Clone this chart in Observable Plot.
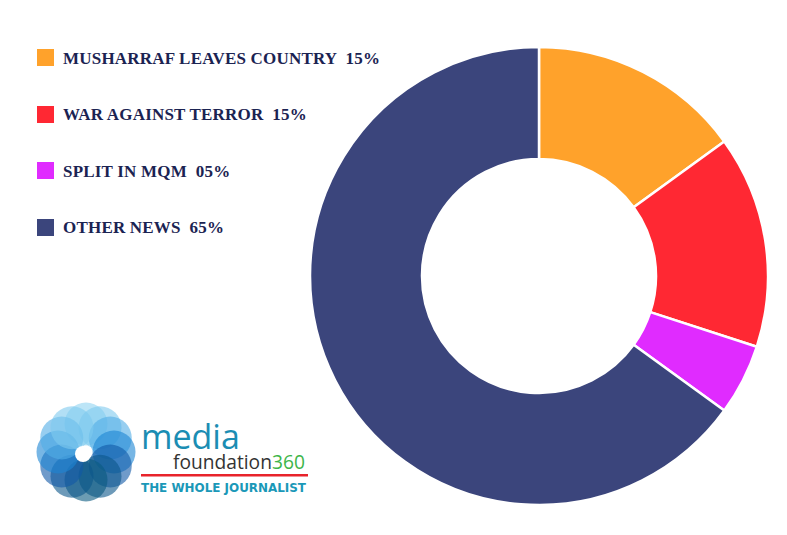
<!DOCTYPE html>
<html>
<head>
<meta charset="utf-8">
<script src="https://cdn.jsdelivr.net/npm/d3@7"></script>
<script src="https://cdn.jsdelivr.net/npm/@observablehq/plot@0.6"></script>
<style>
  html, body { margin: 0; padding: 0; background: #fff; }
  #wrap { position: relative; width: 787px; height: 535px; overflow: hidden; }
  #chart { position: absolute; left: 0; top: 0; }
  #legend { position: absolute; left: 37px; top: 49px; font-family: "Liberation Serif", "Times New Roman", serif; font-weight: bold; color: #1b2352; font-size: 17px; }
  .row { display: flex; align-items: center; height: 17px; margin-bottom: 39.5px; white-space: pre; }
  .sw { width: 17px; height: 17px; margin-right: 9px; flex: none; }
  .lab { letter-spacing: 0.2px; position: relative; top: 1px; }
  #logo { position: absolute; left: 0; top: 0; }
</style>
</head>
<body>
<div id="wrap">
  <div id="chart"></div>
  <div id="legend"></div>
  <svg id="logo" width="787" height="535"></svg>
</div>
<script>
const categories = ["MUSHARRAF LEAVES COUNTRY", "WAR AGAINST TERROR", "SPLIT IN MQM", "OTHER NEWS"];
const values = [15, 15, 5, 65];
const valueLabels = ["15%", "15%", "05%", "65%"];
const colors = ["#FFA22B", "#FF2833", "#E02BFF", "#3B457C"];

const data = categories.map((c, i) => ({category: c, value: values[i], label: valueLabels[i]}));
const color = Plot.scale({color: {type: "ordinal", domain: categories, range: colors}});

function donutMark(index, scales, vals, dims) {
  const cx = 539, cy = 276, outer = 229, inner = 117;
  const arcs = d3.pie().sort(null).value(d => d.value)(data);
  const arc = d3.arc().innerRadius(inner).outerRadius(outer);
  const g = d3.create("svg:g").attr("transform", `translate(${cx},${cy})`);
  g.selectAll("path").data(arcs).join("path")
    .attr("d", arc)
    .attr("fill", d => color.apply(d.data.category))
    .attr("stroke", "#fff")
    .attr("stroke-width", 2.5)
    .attr("stroke-linejoin", "round");
  return g.node();
}

const plot = Plot.plot({
  width: 787,
  height: 535,
  margin: 0,
  x: {axis: null},
  y: {axis: null},
  marks: [donutMark]
});
document.getElementById("chart").appendChild(plot);

// Legend
const legend = d3.select("#legend");
data.forEach(d => {
  const row = legend.append("div").attr("class", "row");
  row.append("div").attr("class", "sw").style("background", color.apply(d.category));
  row.append("span").attr("class", "lab").text(d.category + "  " + d.label);
});

// Logo (decorative)
const logo = d3.select("#logo");
const lc = [86, 452];
const n = 12;
const shade = d3.scaleLinear().domain([0, 0.45, 0.8, 1]).range(["#8fd3f2", "#1f8fdc", "#0d4f9e", "#0a5a80"]);
for (let i = 0; i < n; i++) {
  const a = Math.PI * 2 * i / n;
  const x = lc[0] + 28 * Math.sin(a), y = lc[1] - 28 * Math.cos(a);
  const t = (1 - Math.cos(a)) / 2;
  logo.append("circle").attr("cx", x).attr("cy", y).attr("r", 21.5)
    .attr("fill", shade(t)).attr("fill-opacity", 0.6);
}
logo.append("circle").attr("cx", lc[0] - 3).attr("cy", lc[1] + 2).attr("r", 8).attr("fill", "#fff");
const brand = logo.append("text").attr("font-family", "Open Sans, sans-serif");
brand.append("tspan").attr("x", 141).attr("y", 449).attr("font-size", 34).attr("fill", "#1b8db3").text("media");
brand.append("tspan").attr("x", 173).attr("y", 469).attr("font-size", 19.2).attr("fill", "#333").text("foundation");
brand.append("tspan").attr("font-size", 19.2).attr("fill", "#3db54a").text("360");
logo.append("rect").attr("x", 141).attr("y", 474).attr("width", 167).attr("height", 2.5).attr("fill", "#e8232b");
logo.append("text").attr("x", 141).attr("y", 492).attr("font-family", "DejaVu Sans, sans-serif")
  .attr("font-weight", "bold").attr("font-size", 12.5).attr("fill", "#1a98b8").attr("textLength", 165)
  .attr("lengthAdjust", "spacingAndGlyphs").text("THE WHOLE JOURNALIST");
</script>
</body>
</html>
